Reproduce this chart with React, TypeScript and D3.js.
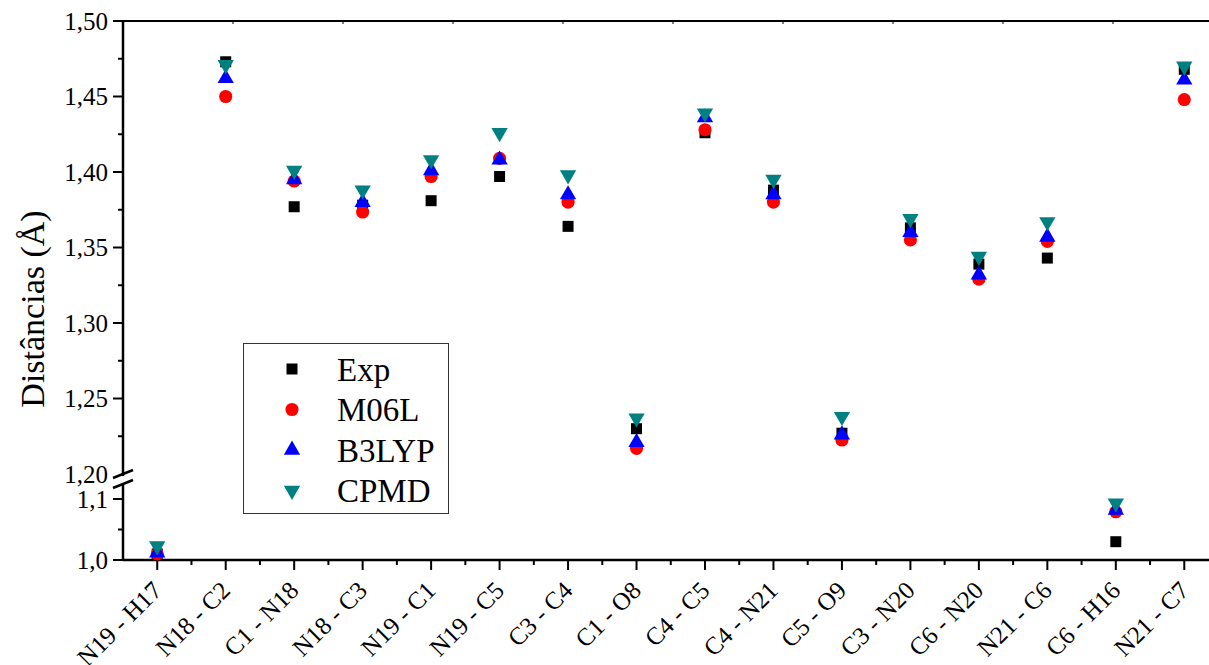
import React from 'react'
import * as d3 from 'd3'

const categories = ['N19 - H17', 'N18 - C2', 'C1 - N18', 'N18 - C3', 'N19 - C1', 'N19 - C5', 'C3 - C4', 'C1 - O8',
  'C4 - C5', 'C4 - N21', 'C5 - O9', 'C3 - N20', 'C6 - N20', 'N21 - C6', 'C6 - H16', 'N21 - C7']
const expValues = [1.010, 1.473, 1.377, 1.378, 1.381, 1.397, 1.364, 1.230, 1.426, 1.388, 1.227, 1.363, 1.339, 1.343, 1.030, 1.468]
const m06lValues = [1.010, 1.450, 1.394, 1.3735, 1.397, 1.409, 1.380, 1.217, 1.428, 1.380, 1.2225, 1.355, 1.329, 1.354, 1.079, 1.448]
const b3lypValues = [1.012, 1.462, 1.395, 1.380, 1.401, 1.408, 1.385, 1.221, 1.436, 1.385, 1.226, 1.360, 1.332, 1.357, 1.082, 1.461]
const cpmdValues = [1.023, 1.471, 1.401, 1.388, 1.408, 1.426, 1.398, 1.237, 1.439, 1.395, 1.238, 1.369, 1.344, 1.367, 1.093, 1.470]

const upperTicks = [1.20, 1.25, 1.30, 1.35, 1.40, 1.45, 1.50]
const lowerTicks = [1.0, 1.1]

const series = [
  { name: 'Exp', values: expValues, color: '#000000', symbol: d3.symbolSquare, size: 121, rotate: 0 },
  { name: 'M06L', values: m06lValues, color: '#ff0000', symbol: d3.symbolCircle, size: 135, rotate: 0 },
  { name: 'B3LYP', values: b3lypValues, color: '#0000ff', symbol: d3.symbolTriangle, size: 115, rotate: 0 },
  { name: 'CPMD', values: cpmdValues, color: '#008080', symbol: d3.symbolTriangle, size: 115, rotate: 180 },
]

const fmt = (v: number, digits: number) => v.toFixed(digits).replace('.', ',')

const App = () => {
  const svgRef = React.useRef<SVGSVGElement>(null)
  const width = 1209
  const height = 665

  React.useEffect(() => {
    const svg = d3.select(svgRef.current)
    svg.selectAll('*').remove()

    const font = 'Liberation Serif, Times New Roman, Times, serif'
    const left = 123
    const bottom = 560
    const top = 21

    const x = d3.scaleLinear().domain([-0.5, 15.5]).range([left, left + 16 * 68.47])
    const yUp = d3.scaleLinear().domain([1.2, 1.5]).range([474, top])
    const yLow = d3.scaleLinear().domain([1.0, 1.1]).range([bottom, 499])
    const y = (v: number) => (v >= 1.15 ? yUp(v) : yLow(v))

    const g = svg.append('g').attr('font-family', font)

    // frame lines
    g.append('line').attr('x1', left - 10).attr('x2', width).attr('y1', top).attr('y2', top)
      .attr('stroke', '#000').attr('stroke-width', 2)
    g.append('line').attr('x1', left).attr('x2', width).attr('y1', bottom).attr('y2', bottom)
      .attr('stroke', '#000').attr('stroke-width', 2.5)
    g.append('line').attr('x1', left).attr('x2', left).attr('y1', top).attr('y2', 476)
      .attr('stroke', '#000').attr('stroke-width', 2.5)
    g.append('line').attr('x1', left).attr('x2', left).attr('y1', 484).attr('y2', bottom + 1)
      .attr('stroke', '#000').attr('stroke-width', 2.5)

    // axis break
    ;[0, 10].forEach((off) => {
      g.append('line').attr('x1', left - 10).attr('x2', left + 10)
        .attr('y1', 478 + off).attr('y2', 470 + off)
        .attr('stroke', '#000').attr('stroke-width', 2.5)
    })

    // top small ticks
    const xTop = d3.scaleLinear().domain([0, 10]).range([left, left + 1100])
    g.selectAll('.ttick').data(d3.range(1, 10)).join('line')
      .attr('x1', (d) => xTop(d)).attr('x2', (d) => xTop(d))
      .attr('y1', top).attr('y2', top + 3)
      .attr('stroke', '#000').attr('stroke-width', 1)

    // y ticks
    const upperMinor = d3.range(6).map((i) => 1.225 + i * 0.05)
    g.selectAll('.ymaj').data(upperTicks.slice(1)).join('line')
      .attr('x1', left - 10).attr('x2', left).attr('y1', (d) => yUp(d)).attr('y2', (d) => yUp(d))
      .attr('stroke', '#000').attr('stroke-width', 2)
    g.selectAll('.ymin').data(upperMinor).join('line')
      .attr('x1', left - 5).attr('x2', left).attr('y1', (d) => yUp(d)).attr('y2', (d) => yUp(d))
      .attr('stroke', '#000').attr('stroke-width', 2)
    g.selectAll('.ymajl').data(lowerTicks).join('line')
      .attr('x1', left - 10).attr('x2', left).attr('y1', (d) => yLow(d)).attr('y2', (d) => yLow(d))
      .attr('stroke', '#000').attr('stroke-width', 2)
    g.append('line').attr('x1', left - 5).attr('x2', left).attr('y1', yLow(1.05)).attr('y2', yLow(1.05))
      .attr('stroke', '#000').attr('stroke-width', 2)

    const yLabels = g.append('g').attr('font-size', 25).attr('text-anchor', 'end')
    yLabels.selectAll('.yu').data(upperTicks).join('text')
      .attr('x', 108).attr('y', (d) => yUp(d)).attr('dy', '0.35em').text((d) => fmt(d, 2))
    yLabels.selectAll('.yl').data(lowerTicks).join('text')
      .attr('x', 108).attr('y', (d) => yLow(d)).attr('dy', '0.35em').text((d) => fmt(d, 1))

    // x ticks
    g.selectAll('.xmaj').data(categories).join('line')
      .attr('x1', (d, i) => x(i)).attr('x2', (d, i) => x(i))
      .attr('y1', bottom).attr('y2', bottom + 10)
      .attr('stroke', '#000').attr('stroke-width', 2)
    g.selectAll('.xmin').data(d3.range(16)).join('line')
      .attr('x1', (d) => x(d + 0.5)).attr('x2', (d) => x(d + 0.5))
      .attr('y1', bottom).attr('y2', bottom + 5)
      .attr('stroke', '#000').attr('stroke-width', 2)

    g.append('g').attr('font-size', 25).attr('text-anchor', 'end')
      .selectAll('text').data(categories).join('text')
      .attr('transform', (d, i) => `translate(${x(i) + 6},${bottom + 32}) rotate(-45)`)
      .text((d) => d)

    // y title
    g.append('text')
      .attr('transform', 'translate(44,309) rotate(-90)')
      .attr('text-anchor', 'middle')
      .attr('font-size', 34)
      .text('Distâncias (Å)')

    // points
    series.forEach((s) => {
      const sym = d3.symbol().type(s.symbol).size(s.size)
      g.append('g').selectAll('path').data(s.values).join('path')
        .attr('d', sym)
        .attr('transform', (d, i) => `translate(${x(i)},${y(d)}) rotate(${s.rotate})`)
        .attr('fill', s.color)
    })

    // legend
    const legend = g.append('g')
    legend.append('rect').attr('x', 243.5).attr('y', 343.5).attr('width', 205).attr('height', 170)
      .attr('fill', '#fff').attr('stroke', '#333').attr('stroke-width', 1)
    series.forEach((s, i) => {
      const ly = 369 + i * 40.5
      legend.append('path').attr('d', d3.symbol().type(s.symbol).size(s.size)())
        .attr('transform', `translate(292,${ly}) rotate(${s.rotate})`)
        .attr('fill', s.color)
      legend.append('text').attr('x', 337).attr('y', ly).attr('dy', '0.35em')
        .attr('font-size', 33)
        .text(s.name)
    })
  }, [])

  return (
    <svg ref={svgRef} width={width} height={height}
      style={{ position: 'absolute', left: 0, top: 0, background: '#fff' }} />
  )
}

export default App
